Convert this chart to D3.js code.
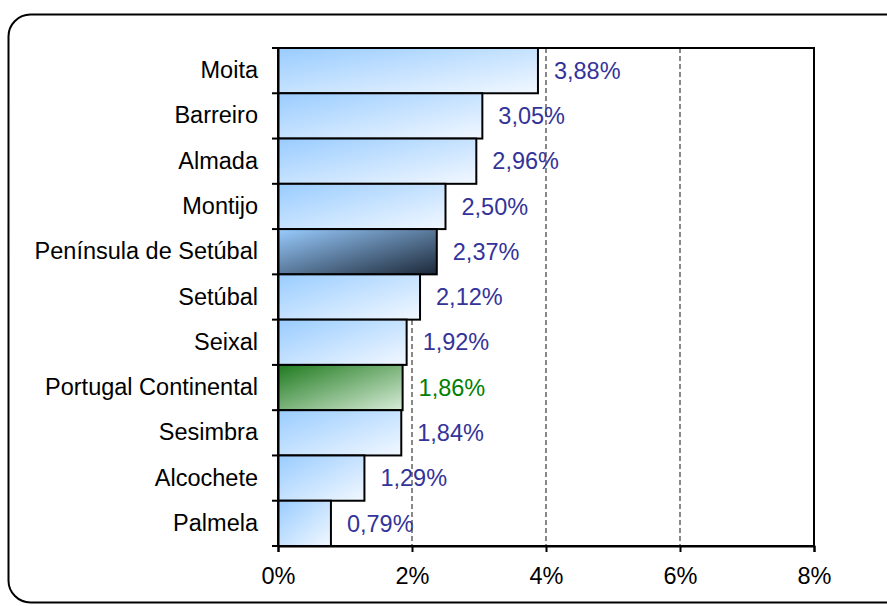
<!DOCTYPE html>
<html>
<head>
<meta charset="utf-8">
<script src="https://cdn.jsdelivr.net/npm/d3@7"></script>
<style>
  body { margin: 0; background: #fff; }
  text { font-family: "Liberation Sans", Arial, sans-serif; }
</style>
</head>
<body>
<div id="chart"></div>
<script>
// Categories and values (percent)
const categories = ['Moita', 'Barreiro', 'Almada', 'Montijo', 'Península de Setúbal', 'Setúbal',
    'Seixal', 'Portugal Continental', 'Sesimbra', 'Alcochete', 'Palmela'];
const values = [3.88, 3.05, 2.96, 2.50, 2.37, 2.12, 1.92, 1.86, 1.84, 1.29, 0.79];
const xTicks = [0, 2, 4, 6, 8];

const W = 887, H = 606;
const margin = { top: 48, right: 73, bottom: 60, left: 278 };
const width = W - margin.left - margin.right;
const height = H - margin.top - margin.bottom;
const fontSize = 23.5;

const svg = d3.select('#chart').append('svg')
    .attr('width', W)
    .attr('height', H);

// Outer rounded frame (runs off the right edge)
svg.append('rect')
    .attr('x', 8.5).attr('y', 14.5)
    .attr('width', 900).attr('height', 588)
    .attr('rx', 22).attr('ry', 22)
    .attr('fill', 'none')
    .attr('stroke', '#000')
    .attr('stroke-width', 2);

const defs = svg.append('defs');
function gradient(id, c1, c2) {
    const g = defs.append('linearGradient')
        .attr('id', id)
        .attr('x1', '0%').attr('y1', '0%')
        .attr('x2', '100%').attr('y2', '100%');
    g.append('stop').attr('offset', '0%').attr('stop-color', c1);
    g.append('stop').attr('offset', '100%').attr('stop-color', c2);
}
gradient('gBlue', '#99ccff', '#f2f8ff');
gradient('gDark', '#99ccff', '#1c2838');
gradient('gGreen', '#1f7a1f', '#d8ecd8');

const g = svg.append('g')
    .attr('transform', `translate(${margin.left},${margin.top})`);

const x = d3.scaleLinear().domain([0, 8]).range([0, width]);
const y = d3.scaleBand().domain(categories).range([0, height]).padding(0);

// Dashed grid lines
g.selectAll('.grid')
    .data(xTicks.filter(d => d > 0 && d < 8))
    .enter().append('line')
    .attr('x1', d => x(d)).attr('x2', d => x(d))
    .attr('y1', 0).attr('y2', height)
    .attr('stroke', '#888')
    .attr('stroke-width', 2)
    .attr('stroke-dasharray', '5,3');

// Bars
const fillFor = c => c === 'Península de Setúbal' ? 'url(#gDark)'
    : c === 'Portugal Continental' ? 'url(#gGreen)' : 'url(#gBlue)';

g.selectAll('.bar')
    .data(categories)
    .enter().append('rect')
    .attr('x', 0)
    .attr('y', d => y(d))
    .attr('width', (d, i) => x(values[i]))
    .attr('height', y.bandwidth())
    .attr('fill', d => fillFor(d))
    .attr('stroke', '#000')
    .attr('stroke-width', 2);

// Value labels
g.selectAll('.val')
    .data(categories)
    .enter().append('text')
    .attr('x', (d, i) => x(values[i]) + 16)
    .attr('y', d => y(d) + y.bandwidth() / 2)
    .attr('dy', '0.35em')
    .attr('font-size', fontSize)
    .attr('fill', d => d === 'Portugal Continental' ? '#008000' : '#333399')
    .text((d, i) => values[i].toFixed(2).replace('.', ',') + '%');

// Plot frame (top and right)
g.append('rect')
    .attr('x', 0).attr('y', 0)
    .attr('width', width).attr('height', height)
    .attr('fill', 'none')
    .attr('stroke', '#000')
    .attr('stroke-width', 2);

// Axes
const yAxis = g.append('g')
    .call(d3.axisLeft(y).tickSize(0).tickPadding(20));
yAxis.select('.domain').attr('stroke-width', 2);
yAxis.selectAll('text').attr('font-size', fontSize).attr('fill', '#000')
    .style('font-family', '"Liberation Sans", Arial, sans-serif');

// Category boundary ticks on the y axis
g.selectAll('.ytick')
    .data(d3.range(categories.length + 1))
    .enter().append('line')
    .attr('x1', -6).attr('x2', 0)
    .attr('y1', i => i * y.step()).attr('y2', i => i * y.step())
    .attr('stroke', '#000')
    .attr('stroke-width', 2);

const xAxis = g.append('g')
    .attr('transform', `translate(0,${height})`)
    .call(d3.axisBottom(x).tickValues(xTicks).tickSize(6).tickPadding(15)
        .tickFormat(d => d + '%'));
xAxis.select('.domain').attr('stroke-width', 2);
xAxis.selectAll('line').attr('stroke-width', 2);
xAxis.selectAll('text').attr('font-size', fontSize).attr('fill', '#000')
    .style('font-family', '"Liberation Sans", Arial, sans-serif');
</script>
</body>
</html>
